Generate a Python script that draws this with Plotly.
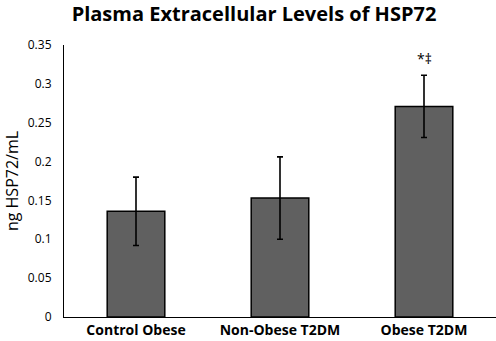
import plotly.graph_objects as go

categories = ["Control Obese", "Non-Obese T2DM", "Obese T2DM"]
means = [0.136, 0.153, 0.271]
errors = [0.044, 0.053, 0.040]
tick_vals = [0, 0.05, 0.1, 0.15, 0.2, 0.25, 0.3, 0.35]
tick_text = ["0", "0.05", "0.1", "0.15", "0.2", "0.25", "0.3", "0.35"]
sig_label = "*‡"
sig_y = 0.333

FONT = "Open Sans"
W, H = 496, 341

fig = go.Figure()
fig.add_trace(go.Bar(
    x=categories, y=means, width=0.4,
    marker=dict(color="#606060", line=dict(color="#000000", width=1.5)),
    error_y=dict(type="data", array=errors, visible=True, color="#000000",
                 thickness=1.6, width=3),
    showlegend=False,
))

fig.add_annotation(x=categories[2], y=sig_y, text=sig_label, showarrow=False,
                   xref="x", yref="y", font=dict(family=FONT, size=14, color="#000000"))

fig.update_layout(
    width=W, height=H,
    margin=dict(l=64, r=0, t=45, b=24, autoexpand=False),
    paper_bgcolor="white", plot_bgcolor="white",
    title=dict(text="<b>Plasma Extracellular Levels of HSP72</b>", x=254 / W, xanchor="center",
               y=1 - 14 / H, yanchor="middle", font=dict(family=FONT, size=20, color="#000000")),
    font=dict(family=FONT, color="#000000"),
)
fig.update_xaxes(
    showline=True, linecolor="#000000", linewidth=1.2, showgrid=False, ticks="",
    tickfont=dict(family=FONT, size=14, color="#000000", weight="bold"),
    range=[-0.5, 2.5],
)
fig.update_yaxes(
    range=[0, 0.35], tickvals=tick_vals, ticktext=tick_text,
    showline=True, linecolor="#000000", linewidth=1.2, showgrid=False, ticks="",
    zeroline=False, ticklabelstandoff=9,
    tickfont=dict(family=FONT, size=12, color="#000000"),
    title=dict(text="ng HSP72/mL", font=dict(family=FONT, size=16, color="#000000"), standoff=5),
)

fig.write_html("out.html", config={"displayModeBar": False},
               post_script="document.body.style.margin='0';")
